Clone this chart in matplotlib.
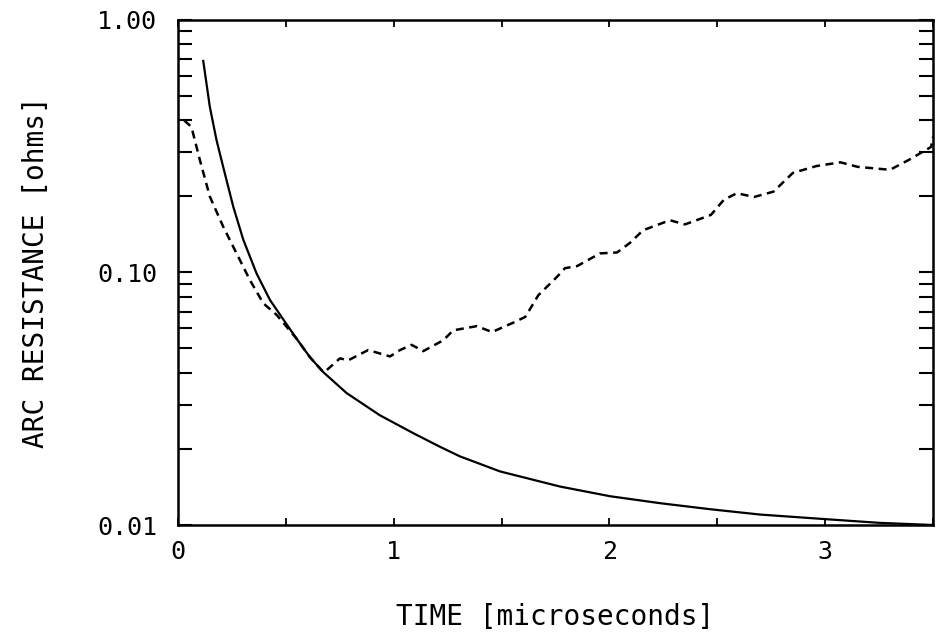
import matplotlib
matplotlib.use("Agg")
import matplotlib.pyplot as plt
from matplotlib.ticker import FixedLocator, NullFormatter, LogLocator

# Calculated arc resistance (solid)
t_solid = [0.117, 0.148, 0.179, 0.210, 0.257, 0.303, 0.365, 0.427, 0.480, 0.550,
           0.612, 0.674, 0.782, 0.936, 1.091, 1.215, 1.307, 1.493, 1.771, 2.003,
           2.235, 2.466, 2.698, 3.0, 3.25, 3.5]
r_solid = [0.695, 0.454, 0.335, 0.262, 0.182, 0.135, 0.099, 0.0778, 0.0668, 0.0547,
           0.0462, 0.0403, 0.0333, 0.0272, 0.0231, 0.0204, 0.0187, 0.0163, 0.0142, 0.0130,
           0.0122, 0.01155, 0.0110, 0.01055, 0.0102, 0.0100]

# Measured arc resistance (dashed)
t_dash = [0.03, 0.063, 0.102, 0.148, 0.210, 0.272, 0.334, 0.396, 0.458, 0.550,
          0.612, 0.674, 0.689, 0.751, 0.79, 0.882, 0.983, 1.03, 1.083, 1.137,
          1.23, 1.276, 1.385, 1.456, 1.56, 1.61, 1.67, 1.757, 1.794, 1.85,
          1.956, 2.035, 2.095, 2.156, 2.28, 2.35, 2.47, 2.53, 2.59, 2.67,
          2.76, 2.85, 2.96, 3.07, 3.15, 3.30, 3.39, 3.49, 3.5]
r_dash = [0.40, 0.377, 0.279, 0.200, 0.152, 0.119, 0.0933, 0.0755, 0.0679, 0.0547,
          0.0462, 0.0403, 0.041, 0.0457, 0.0449, 0.0493, 0.0465, 0.0493, 0.0517, 0.0488,
          0.0539, 0.0590, 0.0613, 0.0581, 0.0636, 0.0667, 0.0812, 0.0961, 0.104, 0.106,
          0.119, 0.120, 0.131, 0.147, 0.161, 0.155, 0.169, 0.194, 0.206, 0.199,
          0.209, 0.248, 0.264, 0.273, 0.262, 0.255, 0.28, 0.314, 0.345]

x_ticks = [0, 1, 2, 3]
x_ticklabels = ["0", "1", "2", "3"]
y_ticks = [0.01, 0.1, 1.0]
y_ticklabels = ["0.01", "0.10", "1.00"]

font = "DejaVu Sans Mono"
plt.rcParams["font.family"] = [font, "DejaVu Sans"]

fig = plt.figure(figsize=(9.36, 6.43), dpi=100)
ax = fig.add_axes([0.190, 0.1835, 0.807, 0.7855])

ax.plot(t_solid, r_solid, color="black", lw=1.6, solid_capstyle="butt")
ax.plot(t_dash, r_dash, color="black", lw=1.8, linestyle=(0, (3.2, 2.2)))

ax.set_yscale("log")
ax.set_xlim(0, 3.5)
ax.set_ylim(0.01, 1.0)

ax.xaxis.set_major_locator(FixedLocator(x_ticks))
ax.set_xticklabels(x_ticklabels)
ax.xaxis.set_minor_locator(FixedLocator([0.5, 1.5, 2.5, 3.5]))
ax.yaxis.set_major_locator(FixedLocator(y_ticks))
ax.set_yticklabels(y_ticklabels)
ax.yaxis.set_minor_locator(LogLocator(base=10, subs=range(2, 10)))
ax.yaxis.set_minor_formatter(NullFormatter())

ax.tick_params(axis="x", which="both", direction="in", top=True, bottom=True,
               length=5, width=1.3, labelsize=18, pad=11)
ax.tick_params(axis="y", which="both", direction="in", left=True, right=True,
               length=10, width=1.5, labelsize=18, pad=15)

for s in ax.spines.values():
    s.set_linewidth(1.8)

ax.set_xlabel("TIME [microseconds]", fontsize=20, labelpad=28)
ax.set_ylabel("ARC RESISTANCE [ohms]", fontsize=20, labelpad=34)

fig.savefig("out.png", dpi=100)
